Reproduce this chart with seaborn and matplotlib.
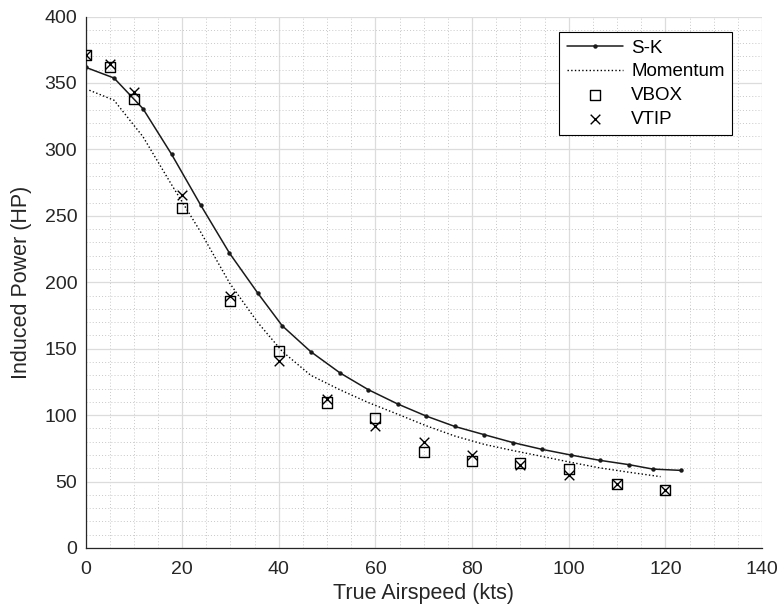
import matplotlib
matplotlib.use("Agg")
import matplotlib.pyplot as plt
import seaborn as sns
import pandas as pd
from matplotlib.ticker import MultipleLocator

# S-K model curve
sk_speed = [0, 5.9, 11.9, 17.8, 23.8, 29.8, 35.7, 40.7, 46.6, 52.7, 58.5, 64.6,
            70.5, 76.4, 82.5, 88.5, 94.4, 100.4, 106.4, 112.5, 117.4, 123.3]
sk_power = [361.8, 353.7, 330.6, 296.4, 258.3, 221.9, 191.6, 167.3, 147.8, 131.7,
            119.2, 108.4, 99.3, 91.5, 85.3, 79.3, 74.3, 70.0, 66.0, 62.7, 59.4, 58.4]

# Momentum theory curve
mom_speed = [0.8, 5.9, 11.9, 17.8, 23.8, 29.8, 35.7, 40.7, 46.6, 52.7, 58.5, 64.6,
             70.5, 76.4, 82.5, 88.5, 94.4, 100.4, 106.4, 112.5, 119.0]
mom_power = [344.5, 337.0, 309.5, 273.5, 238.0, 199.5, 169.5, 148.0, 130.0, 119.0,
             109.5, 100.7, 92.0, 84.3, 78.0, 73.3, 69.0, 64.5, 60.3, 57.0, 53.7]

# Flight test data
test_speed = [0, 5, 10, 20, 30, 40, 50, 60, 70, 80, 90, 100, 110, 120]
vbox_power = [371, 362, 338, 256, 186, 148.5, 109.5, 97.5, 72.5, 65.5, 64, 59.5, 48.5, 43.5]
vtip_power = [371, 364, 343, 266, 189.5, 141, 112.5, 92, 80, 70, 62.5, 55, 48.5, 43.5]

x_ticks = [0, 20, 40, 60, 80, 100, 120, 140]
y_ticks = [0, 50, 100, 150, 200, 250, 300, 350, 400]

sns.set_style("white")
plt.rcParams['font.family'] = ['Liberation Sans', 'DejaVu Sans']

fig = plt.figure(figsize=(7.8, 6.16), dpi=100)
ax = fig.add_axes([85.5 / 780, 1 - 548 / 616, 676.5 / 780, 531.5 / 616])

sk_df = pd.DataFrame({"speed": sk_speed, "power": sk_power})
mom_df = pd.DataFrame({"speed": mom_speed, "power": mom_power})
test_df = pd.DataFrame({"speed": test_speed, "vbox": vbox_power, "vtip": vtip_power})

sns.lineplot(data=sk_df, x="speed", y="power", ax=ax, color="#1a1a1a", linewidth=1.1,
             marker="o", markersize=3.2, markeredgewidth=0, estimator=None, sort=False,
             label="S-K")
sns.lineplot(data=mom_df, x="speed", y="power", ax=ax, color="black", linewidth=1.0,
             linestyle=":", estimator=None, sort=False, label="Momentum")
sns.scatterplot(data=test_df, x="speed", y="vbox", ax=ax, marker="s", s=52,
                facecolor="none", edgecolor="black", linewidth=1.0, label="VBOX", zorder=3)
sns.scatterplot(data=test_df, x="speed", y="vtip", ax=ax, marker="x", s=48,
                color="black", linewidth=1.0, label="VTIP", zorder=3)

ax.set_xlim(0, 140)
ax.set_ylim(0, 400)
ax.set_xticks(x_ticks)
ax.set_yticks(y_ticks)
ax.xaxis.set_minor_locator(MultipleLocator(5))
ax.yaxis.set_minor_locator(MultipleLocator(10))
ax.set_axisbelow(True)
ax.grid(which="major", color="#dcdcdc", linewidth=0.9, linestyle="-")
ax.grid(which="minor", color="#c8c8c8", linewidth=0.7, linestyle=(0, (1, 2.2)))

for side in ["top", "right"]:
    ax.spines[side].set_visible(False)
for side in ["left", "bottom"]:
    ax.spines[side].set_color("#262626")
    ax.spines[side].set_linewidth(0.9)

ax.tick_params(which="major", direction="in", length=4, width=0.9, color="#262626",
               labelsize=14, labelcolor="#262626", top=False, right=False)
ax.tick_params(axis="x", which="major", pad=9)
ax.tick_params(axis="y", which="major", pad=6)
ax.tick_params(which="minor", length=0)

ax.set_xlabel("True Airspeed (kts)", fontsize=15.5, color="#262626", labelpad=4)
ax.set_ylabel("Induced Power (HP)", fontsize=15.5, color="#262626", labelpad=9)

leg = ax.legend(loc="upper right", bbox_to_anchor=(0.956, 0.971), borderaxespad=0,
                fontsize=13.5, frameon=True, fancybox=False, framealpha=1,
                edgecolor="black", handlelength=3.0, handletextpad=0.45,
                labelspacing=0.35, borderpad=0.4, scatterpoints=1)
leg.get_frame().set_linewidth(0.8)
for t in leg.get_texts():
    t.set_color("#000000")

fig.savefig("out.png", dpi=100)
